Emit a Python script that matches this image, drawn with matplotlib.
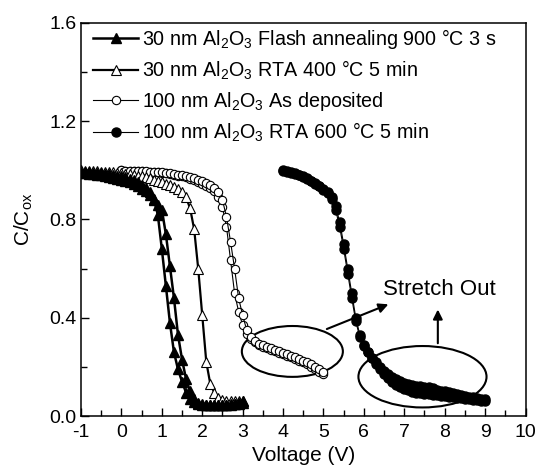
import matplotlib
matplotlib.use('Agg')
import matplotlib.pyplot as plt
from matplotlib.patches import Ellipse
import numpy as np

plt.rcParams['font.family'] = ['Liberation Sans', 'DejaVu Sans']
plt.rcParams['mathtext.fontset'] = 'custom'
plt.rcParams['mathtext.rm'] = 'Liberation Sans'
plt.rcParams['mathtext.it'] = 'Liberation Sans:italic'
plt.rcParams['axes.unicode_minus'] = False

# 30 nm Al2O3, flash annealing 900 C 3 s (two sweeps)
v_flash = [-1.0, -0.9, -0.8, -0.7, -0.6, -0.5, -0.4, -0.3, -0.2, -0.1,
           0.0, 0.1, 0.2, 0.3, 0.4, 0.5, 0.6, 0.7, 0.8, 0.9,
           1.0, 1.1, 1.2, 1.3, 1.4, 1.5, 1.6, 1.7, 1.8, 1.9,
           2.0, 2.1, 2.2, 2.3, 2.4, 2.5, 2.6, 2.7, 2.8, 2.9, 3.0]
c_flash_fwd = [0.995, 0.994, 0.993, 0.991, 0.990, 0.988, 0.986, 0.984, 0.981, 0.978,
               0.975, 0.971, 0.966, 0.960, 0.952, 0.942, 0.930, 0.912, 0.885, 0.82,
               0.68, 0.53, 0.38, 0.26, 0.19, 0.14, 0.095, 0.07, 0.058, 0.05,
               0.046, 0.044, 0.043, 0.043, 0.043, 0.044, 0.045, 0.046, 0.048, 0.05, 0.055]
c_flash_rev = [0.99, 0.989, 0.987, 0.985, 0.983, 0.980, 0.977, 0.974, 0.970, 0.966,
               0.962, 0.957, 0.951, 0.944, 0.936, 0.926, 0.914, 0.898, 0.878, 0.86,
               0.84, 0.74, 0.61, 0.48, 0.33, 0.23, 0.15, 0.10, 0.07, 0.055,
               0.048, 0.046, 0.045, 0.045, 0.045, 0.046, 0.047, 0.048, 0.05, 0.055, 0.062]

# 30 nm Al2O3, RTA 400 C 5 min
v_rta400 = v_flash
c_rta400 = [1.0, 0.999, 0.998, 0.997, 0.996, 0.995, 0.994, 0.993, 0.992, 0.990,
            0.988, 0.986, 0.984, 0.981, 0.978, 0.975, 0.971, 0.967, 0.962, 0.957,
            0.952, 0.946, 0.940, 0.933, 0.925, 0.912, 0.89, 0.845, 0.76, 0.60,
            0.41, 0.22, 0.13, 0.095, 0.075, 0.065, 0.06, 0.06, 0.06, 0.06, 0.06]

# 100 nm Al2O3, as deposited (two sweeps)
v_asdep = [0.0, 0.1, 0.2, 0.3, 0.4, 0.5, 0.6, 0.7, 0.8, 0.9,
           1.0, 1.1, 1.2, 1.3, 1.4, 1.5, 1.6, 1.7, 1.8, 1.9,
           2.0, 2.1, 2.2, 2.3, 2.4, 2.5, 2.6, 2.7, 2.8, 2.9,
           3.0, 3.1, 3.2, 3.3, 3.4, 3.5, 3.6, 3.7, 3.8, 3.9,
           4.0, 4.1, 4.2, 4.3, 4.4, 4.5, 4.6, 4.7, 4.8, 4.9, 5.0]
c_asdep_fwd = [1.0, 0.999, 0.999, 0.998, 0.997, 0.996, 0.995, 0.994, 0.993, 0.992,
               0.990, 0.988, 0.985, 0.982, 0.979, 0.975, 0.971, 0.966, 0.960, 0.953,
               0.945, 0.936, 0.927, 0.915, 0.89, 0.85, 0.77, 0.635, 0.50, 0.425,
               0.37, 0.335, 0.315, 0.30, 0.29, 0.282, 0.276, 0.27, 0.265, 0.258,
               0.252, 0.246, 0.24, 0.233, 0.226, 0.218, 0.21, 0.20, 0.19, 0.18, 0.17]
c_asdep_rev = [1.0, 0.999, 0.999, 0.998, 0.998, 0.997, 0.996, 0.995, 0.994, 0.993,
               0.992, 0.990, 0.988, 0.986, 0.983, 0.980, 0.977, 0.973, 0.968, 0.962,
               0.955, 0.948, 0.94, 0.93, 0.91, 0.88, 0.81, 0.71, 0.60, 0.48,
               0.41, 0.35, 0.32, 0.305, 0.295, 0.288, 0.282, 0.276, 0.27, 0.264,
               0.258, 0.252, 0.246, 0.24, 0.233, 0.226, 0.218, 0.21, 0.20, 0.19, 0.18]

# 100 nm Al2O3, RTA 600 C 5 min (two sweeps)
v_rta600 = [4.0, 4.1, 4.2, 4.3, 4.4, 4.5, 4.6, 4.7, 4.8, 4.9,
            5.0, 5.1, 5.2, 5.3, 5.4, 5.5, 5.6, 5.7, 5.8, 5.9,
            6.0, 6.1, 6.2, 6.3, 6.4, 6.5, 6.6, 6.7, 6.8, 6.9,
            7.0, 7.1, 7.2, 7.3, 7.4, 7.5, 7.6, 7.7, 7.8, 7.9,
            8.0, 8.1, 8.2, 8.3, 8.4, 8.5, 8.6, 8.7, 8.8, 8.9, 9.0]
c_rta600_fwd = [1.0, 0.997, 0.993, 0.988, 0.982, 0.975, 0.967, 0.958, 0.948, 0.937,
                0.925, 0.912, 0.893, 0.855, 0.79, 0.70, 0.60, 0.50, 0.40, 0.33,
                0.29, 0.262, 0.235, 0.21, 0.19, 0.172, 0.155, 0.14, 0.128, 0.118,
                0.11, 0.104, 0.099, 0.095, 0.092, 0.09, 0.088, 0.086, 0.084, 0.082,
                0.08, 0.078, 0.076, 0.074, 0.072, 0.07, 0.068, 0.066, 0.064, 0.063, 0.062]
c_rta600_rev = [0.998, 0.995, 0.991, 0.986, 0.980, 0.973, 0.965, 0.956, 0.946, 0.935,
                0.922, 0.907, 0.885, 0.84, 0.77, 0.68, 0.58, 0.48, 0.385, 0.32,
                0.285, 0.26, 0.238, 0.218, 0.2, 0.185, 0.172, 0.16, 0.15, 0.142,
                0.135, 0.13, 0.126, 0.123, 0.121, 0.12, 0.117, 0.113, 0.108, 0.103,
                0.1, 0.096, 0.092, 0.088, 0.085, 0.082, 0.079, 0.076, 0.073, 0.07, 0.068]

labels = ['30 nm Al$_2$O$_3$ Flash annealing 900 °C 3 s',
          '30 nm Al$_2$O$_3$ RTA 400 °C 5 min',
          '100 nm Al$_2$O$_3$ As deposited',
          '100 nm Al$_2$O$_3$ RTA 600 °C 5 min']

fig = plt.figure(figsize=(5.38, 4.68), dpi=100)
ax = fig.add_axes([0.1506, 0.111, 0.8262, 0.840])

# open circles
ax.plot(v_asdep, c_asdep_fwd, '-o', color='black', lw=0.8, ms=6, mfc='white', mew=0.8, label=labels[2])
ax.plot(v_asdep, c_asdep_rev, '-o', color='black', lw=0.8, ms=6, mfc='white', mew=0.8)
# filled circles
ax.plot(v_rta600, c_rta600_fwd, '-o', color='black', lw=0.8, ms=6.5, label=labels[3])
ax.plot(v_rta600, c_rta600_rev, '-o', color='black', lw=0.8, ms=6.5)
# open triangles
ax.plot(v_rta400, c_rta400, '-^', color='black', lw=1.6, ms=7, mfc='white', mew=0.8, label=labels[1])
# filled triangles
ax.plot(v_flash, c_flash_fwd, '-^', color='black', lw=1.8, ms=7, label=labels[0])
ax.plot(v_flash, c_flash_rev, '-^', color='black', lw=1.8, ms=7)

# highlight ellipses and arrows
ax.add_patch(Ellipse((4.23, 0.263), 2.5, 0.207, fill=False, lw=1.5, color='black'))
ax.add_patch(Ellipse((7.45, 0.16), 3.17, 0.25, fill=False, lw=1.5, color='black'))
ax.annotate('', xy=(6.67, 0.459), xytext=(5.02, 0.35),
            arrowprops=dict(arrowstyle='-|>', color='black', lw=1.5, mutation_scale=14))
ax.annotate('', xy=(7.83, 0.445), xytext=(7.83, 0.285),
            arrowprops=dict(arrowstyle='-|>', color='black', lw=1.5, mutation_scale=14))
ax.text(7.88, 0.517, 'Stretch Out', fontsize=16, ha='center', va='center')

ax.set_xlim(-1, 10)
ax.set_ylim(0, 1.6)
ax.set_xticks(range(-1, 11))
ax.set_xticks(np.arange(-0.5, 10, 1.0), minor=True)
ax.set_yticks([0.0, 0.4, 0.8, 1.2, 1.6])
ax.set_yticks([0.2, 0.6, 1.0, 1.4], minor=True)
ax.set_yticklabels(['0.0', '0.4', '0.8', '1.2', '1.6'])
ax.tick_params(which='both', direction='in', labelsize=14, width=1.0)
ax.tick_params(which='major', length=6)
ax.tick_params(which='minor', length=4)
ax.tick_params(axis='x', pad=6)
for s in ax.spines.values():
    s.set_linewidth(1.1)

ax.set_xlabel('Voltage (V)', fontsize=15, labelpad=3)
ax.set_ylabel('C/C$_{\\rm ox}$', fontsize=15, labelpad=10)

h, l = ax.get_legend_handles_labels()
order = [l.index(x) for x in labels]
ax.legend([h[i] for i in order], [l[i] for i in order], loc='upper left',
          bbox_to_anchor=(0.0, 1.02), frameon=False, fontsize=14.2, handlelength=2.3,
          handletextpad=0.2, labelspacing=0.4, borderaxespad=0.3, borderpad=0.3)

fig.savefig('out.png', dpi=100)
